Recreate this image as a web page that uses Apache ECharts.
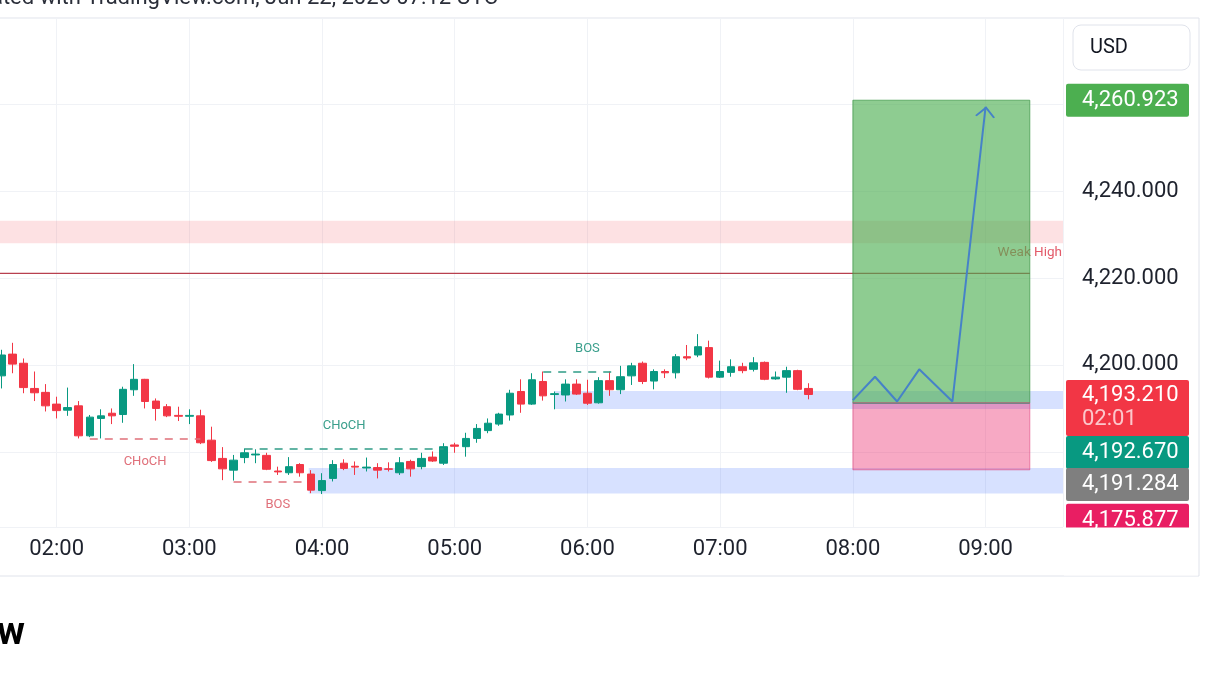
<!DOCTYPE html>
<html>
<head>
<meta charset="utf-8">
<script src="https://cdn.jsdelivr.net/npm/echarts@6/dist/echarts.min.js"></script>
<style>
html,body{margin:0;padding:0;background:#ffffff;}
#chart{width:1216px;height:684px;}
</style>
</head>
<body>
<div id="chart"></div>
<script>
// ---------------- DATA ----------------
const times = ['01:35','01:40','01:45','01:50','01:55','02:00','02:05','02:10','02:15','02:20','02:25','02:30','02:35','02:40','02:45','02:50','02:55',
  '03:00','03:05','03:10','03:15','03:20','03:25','03:30','03:35','03:40','03:45','03:50','03:55',
  '04:00','04:05','04:10','04:15','04:20','04:25','04:30','04:35','04:40','04:45','04:50','04:55',
  '05:00','05:05','05:10','05:15','05:20','05:25','05:30','05:35','05:40','05:45','05:50','05:55',
  '06:00','06:05','06:10','06:15','06:20','06:25','06:30','06:35','06:40','06:45','06:50','06:55',
  '07:00','07:05','07:10','07:15','07:20','07:25','07:30','07:35','07:40'];
const opens = [4197.5,4202.5,4200.4,4194.6,4193.7,4191.0,4189.6,4190.6,4183.7,4187.7,4188.9,4188.6,4194.3,4196.7,4191.7,4190.4,4188.4,
  4188.2,4188.3,4182.7,4178.5,4175.8,4178.7,4179.3,4179.2,4175.6,4175.2,4177.1,4174.9,
  4171.1,4173.9,4177.4,4176.7,4176.3,4176.4,4176.1,4175.2,4177.8,4176.6,4178.8,4177.4,
  4181.6,4181.2,4183.1,4184.9,4186.4,4188.5,4193.9,4191.0,4196.2,4193.2,4193.1,4195.6,
  4193.5,4191.3,4196.4,4194.3,4197.5,4200.4,4196.3,4198.5,4198.2,4201.9,4202.3,4204.0,
  4197.2,4198.3,4199.6,4199.0,4200.6,4196.8,4197.2,4198.7,4194.6];
const closes = [4202.3,4200.2,4194.8,4193.6,4190.6,4189.5,4190.2,4183.7,4188.0,4188.3,4188.3,4194.4,4196.7,4191.6,4190.0,4188.3,4188.2,
  4188.4,4182.1,4178.0,4176.1,4178.1,4179.8,4179.5,4176.0,4175.4,4176.6,4175.2,4171.2,
  4173.4,4177.1,4176.2,4176.5,4176.5,4175.8,4176.0,4177.5,4176.1,4178.5,4177.9,4181.2,
  4181.3,4183.1,4185.4,4186.6,4188.7,4193.5,4191.0,4196.6,4192.9,4193.4,4195.6,4193.3,
  4191.2,4196.4,4194.3,4197.3,4199.8,4196.2,4198.5,4198.2,4201.9,4201.6,4204.2,4197.2,
  4198.5,4199.6,4198.7,4200.5,4196.7,4197.2,4198.7,4194.4,4193.21];
const highs = [4203.5,4205.1,4201.5,4198.5,4195.6,4192.7,4194.8,4191.7,4188.5,4189.8,4190.0,4195.0,4200.2,4196.8,4192.3,4191.0,4190.4,
  4189.8,4189.7,4185.8,4181.1,4179.3,4180.8,4180.6,4179.8,4176.6,4178.8,4177.4,4175.8,
  4175.1,4178.1,4178.3,4177.8,4178.7,4177.4,4177.6,4178.8,4178.2,4179.8,4180.1,4182.0,
  4182.1,4184.4,4186.4,4187.7,4189.0,4194.3,4196.7,4198.1,4198.5,4193.9,4196.7,4196.7,
  4196.6,4197.2,4198.5,4199.8,4200.5,4200.8,4199.0,4199.0,4202.5,4204.6,4207.1,4205.6,
  4201.0,4201.3,4200.5,4201.8,4200.8,4198.5,4199.6,4198.9,4195.8];
const lows = [4194.6,4198.1,4193.5,4191.7,4189.3,4187.7,4188.3,4183.1,4183.4,4183.1,4186.4,4186.7,4192.9,4190.0,4187.2,4188.0,4187.1,
  4186.4,4181.8,4177.7,4173.5,4173.4,4177.4,4177.4,4175.8,4174.7,4174.7,4174.3,4170.5,
  4170.3,4173.2,4175.8,4174.7,4175.5,4173.9,4175.5,4174.7,4174.3,4176.0,4177.7,4177.0,
  4179.8,4178.9,4182.1,4184.3,4186.0,4187.2,4189.0,4190.8,4191.8,4189.8,4191.6,4193.1,
  4190.8,4191.1,4192.9,4193.3,4195.4,4195.6,4194.4,4197.0,4196.9,4201.1,4201.8,4196.9,
  4197.0,4197.3,4198.1,4198.5,4196.5,4196.6,4193.6,4194.2,4192.1];

const xTickTimes = ['02:00','03:00','04:00','05:00','06:00','07:00','08:00','09:00'];
const yTickValues = [4180, 4200, 4220, 4240, 4260];
const yTickLabels = ['4,180.000','4,200.000','4,220.000','4,240.000','4,260.000'];

// supply / demand zones
const zoneTop    = [4233.2, 4194.0, 4176.3];
const zoneBottom = [4228.0, 4189.9, 4170.4];
const zoneStart  = [null, '05:45', '03:54'];   // null = from chart's left edge

// market structure lines
const structText  = ['CHoCH', 'BOS', 'CHoCH', 'BOS'];
const structLevel = [4183.1, 4173.2, 4180.8, 4198.5];
const structFrom  = ['02:15', '03:20', '03:25', '05:40'];
const structTo    = ['03:05', '03:53', '04:55', '06:12'];
const structMid   = ['02:40', '03:40', '04:10', '06:00'];
const structBull  = [false, false, true, true];

const weakHighLevel = 4221.1;
const weakHighEnd = '09:20';

// long position tool
const posStart = '08:00', posEnd = '09:20';
const posEntry = 4191.284, posTarget = 4260.923, posStop = 4175.877;

// projected path
const projTimes  = ['08:00','08:10','08:20','08:30','08:45','09:00'];
const projPrices = [4191.9, 4197.3, 4191.6, 4199.0, 4191.6, 4259.4];

// price scale tags
const tagValues = [4260.923, 4193.210, 4192.670, 4191.284, 4175.877];
const countdown = '02:01';

// ---------------- HELPERS / STYLE ----------------
const toMin = s => { const p = s.split(':'); return (+p[0]) * 60 + (+p[1]); };
const fmt3 = v => v.toLocaleString('en-US', {minimumFractionDigits: 3, maximumFractionDigits: 3});
const xMin = 60, xMax = 575, yMin = 4162.72, yMax = 4279.84;
const UP = '#089981', DOWN = '#f23645';
const FONT = 'Roboto';
const TXT = '#1e222d';
const AXFS = 22;

const candleData = times.map((t, i) => [toMin(t), opens[i], closes[i], lows[i], highs[i]]);

const zoneColors = ['rgba(242,54,69,0.15)', 'rgba(41,98,255,0.19)', 'rgba(41,98,255,0.19)'];
const zoneAreas = zoneTop.map((top, i) => [
  {xAxis: zoneStart[i] ? toMin(zoneStart[i]) : xMin, yAxis: top, itemStyle: {color: zoneColors[i]}},
  {xAxis: xMax, yAxis: zoneBottom[i]}
]);

const structLines = structLevel.map((lv, i) => [
  {coord: [toMin(structFrom[i]), lv], lineStyle: {color: structBull[i] ? '#2f9c86' : '#e0707a', type: [8, 7], width: 1.5, opacity: 1}},
  {coord: [toMin(structTo[i]), lv]}
]);

const structLabels = structLevel.map((lv, i) => ({
  coord: [toMin(structMid[i]), lv],
  symbolSize: 0,
  label: {show: true, position: 'inside', offset: [0, structBull[i] ? -23 : 23], formatter: structText[i],
    color: structBull[i] ? '#3a9f8c' : '#e0707a', fontSize: 13, fontFamily: FONT}
}));
structLabels.push({
  coord: [xMax, weakHighLevel], symbolSize: 0,
  label: {show: true, position: 'left', distance: 1, offset: [0, -21], formatter: 'Weak High',
    color: 'rgba(226,82,98,0.95)', fontSize: 13.5, fontFamily: FONT}
});

const tagColors = ['#4caf50', DOWN, UP, '#7f7f7f', '#e91e63'];
const tagShift = [0, 13.5, 55.6, 81.6, 50.5];
const tagPoints = tagValues.map((v, i) => ({
  coord: [xMax, v], symbolSize: 0,
  label: {
    show: true, position: 'right', distance: 3, offset: [0, tagShift[i]],
    formatter: i === 1 ? '{a|' + fmt3(v) + '}\n{b|' + countdown + '}' : fmt3(v),
    backgroundColor: tagColors[i], color: '#ffffff', fontSize: AXFS, fontFamily: FONT,
    lineHeight: i === 1 ? 24 : 25, padding: [4, 6, 4, 16], width: 101, borderRadius: 2, align: 'left',
    rich: {a: {color: '#ffffff', fontSize: AXFS, fontFamily: FONT, lineHeight: 24},
           b: {color: 'rgba(255,255,255,0.72)', fontSize: AXFS, fontFamily: FONT, lineHeight: 24}}
  }
}));

const projData = projTimes.map((t, i) => [toMin(t), projPrices[i]]);
const weakHighData = [[xMin, weakHighLevel], [toMin(weakHighEnd), weakHighLevel]];

const chart = echarts.init(document.getElementById('chart'), null, {renderer: 'canvas'});
const option = {
  animation: false,
  backgroundColor: '#ffffff',
  textStyle: {fontFamily: FONT},
  grid: {left: -76.1, right: 153, top: 18, bottom: 157, containLabel: false, outerBoundsMode: 'none'},
  xAxis: {
    type: 'value', min: xMin, max: xMax, interval: 60,
    axisLine: {show: false}, axisTick: {show: false},
    splitLine: {show: true, lineStyle: {color: '#f0f2f6', width: 1}},
    axisLabel: {
      color: TXT, fontSize: AXFS, fontFamily: FONT, margin: 11, showMaxLabel: false, showMinLabel: false,
      formatter: v => { const k = xTickTimes.findIndex(t => toMin(t) === Math.round(v)); return k >= 0 && Math.abs(v - Math.round(v)) < 1e-6 ? xTickTimes[k] : ''; }
    }
  },
  yAxis: {
    type: 'value', position: 'right', min: yMin, max: yMax, splitNumber: 5, minInterval: 20, maxInterval: 20,
    axisLine: {show: false}, axisTick: {show: false},
    splitLine: {show: true, lineStyle: {color: '#f0f2f6', width: 1}},
    axisLabel: {
      color: TXT, fontSize: AXFS, fontFamily: FONT, margin: 19, showMinLabel: false, showMaxLabel: false,
      formatter: v => { const k = yTickValues.findIndex(t => Math.abs(t - v) < 1e-6); return k >= 0 ? yTickLabels[k] : ''; }
    }
  },
  series: [
    {
      name: 'zones', type: 'line', data: [], z: 1, silent: true,
      markArea: {silent: true, z: 1, data: zoneAreas},
      markLine: {silent: true, z: 5, symbol: ['none', 'none'], label: {show: false}, data: structLines},
      markPoint: {silent: true, z: 5, data: structLabels}
    },
    {
      name: 'Weak High', type: 'line', data: weakHighData, z: 5, symbol: 'none', silent: true,
      color: '#b8404f', lineStyle: {color: '#b8404f', width: 1.2, type: 'solid'}
    },
    {
      name: 'XAUUSD', type: 'candlestick', data: candleData, z: 2, barWidth: 8,
      itemStyle: {color: UP, color0: DOWN, borderColor: UP, borderColor0: DOWN, borderWidth: 1}
    },
    {
      name: 'position', type: 'line', data: [], z: 7, silent: true,
      markArea: {silent: true, z: 7, data: [
        [{xAxis: toMin(posStart), yAxis: posTarget, itemStyle: {color: 'rgba(76,175,80,0.63)', borderColor: 'rgba(60,150,70,0.7)', borderWidth: 1}},
         {xAxis: toMin(posEnd), yAxis: posEntry}],
        [{xAxis: toMin(posStart), yAxis: posEntry, itemStyle: {color: 'rgba(233,30,99,0.38)', borderColor: 'rgba(220,60,120,0.55)', borderWidth: 1}},
         {xAxis: toMin(posEnd), yAxis: posStop}]
      ]},
      markLine: {silent: true, z: 8, symbol: ['none', 'none'], label: {show: false},
        data: [[{coord: [toMin(posStart), posEntry], lineStyle: {color: '#7a7f8a', width: 1.2, type: 'solid'}}, {coord: [toMin(posEnd), posEntry]}]]}
    },
    {
      name: 'projection', type: 'line', data: projData, z: 9, symbol: 'none', silent: true,
      lineStyle: {color: '#4682c8', width: 2},
      markPoint: {silent: true, z: 10, data: [{
        coord: projData[projData.length - 1],
        symbol: 'path://M0,10 L10,0 L20,10 L18.3,11 L10,2.6 L1.7,11 Z',
        symbolSize: [20, 11], symbolOffset: [0, 5], symbolRotate: -6.4, symbolKeepAspect: false,
        itemStyle: {color: '#4682c8'}, label: {show: false}
      }]}
    },
    {
      name: 'tags', type: 'line', data: [], z: 11, silent: true,
      markPoint: {silent: true, z: 11, data: tagPoints}
    }
  ],
  graphic: [
    {type: 'rect', z: 0, silent: true, shape: {x: -10, y: 18, width: 1209, height: 558},
     style: {fill: 'none', stroke: '#e0e3eb', lineWidth: 1}},
    {type: 'rect', z: 100, silent: true, shape: {x: 1064, y: 527.5, width: 134, height: 48},
     style: {fill: '#ffffff'}},
    {type: 'rect', z: 101, silent: true, shape: {x: 1073, y: 25, width: 117, height: 45, r: 8},
     style: {fill: '#ffffff', stroke: '#e0e3eb', lineWidth: 1}},
    {type: 'text', z: 102, silent: true, x: 1090, y: 48,
     style: {text: 'USD', font: '20px Roboto', fill: '#131722', align: 'left', verticalAlign: 'middle'}},
    {type: 'text', z: 102, silent: true, x: 498, y: 9,
     style: {text: 'Created with TradingView.com, Jun 22, 2026 07:12 UTC', font: '22px Roboto', fill: '#2a2e39', align: 'right', verticalAlign: 'bottom'}},
    {type: 'text', z: 102, silent: true, x: 25, y: 634,
     style: {text: 'TradingView', font: 'bold 38px Roboto', fill: '#000000', align: 'right', verticalAlign: 'middle'}}
  ]
};
chart.setOption(option);
</script>
</body>
</html>
